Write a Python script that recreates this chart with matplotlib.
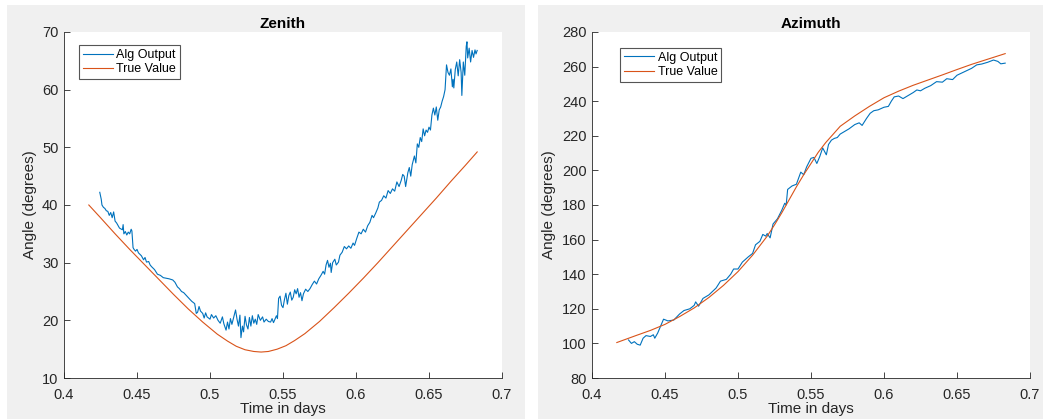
import numpy as np
import matplotlib.pyplot as plt
from matplotlib.patches import Rectangle

plt.rcParams['font.family'] = ['Liberation Sans', 'DejaVu Sans']

# ---- Zenith data ----
zen_alg_t = [0.4245, 0.4255, 0.4260, 0.4270, 0.4280, 0.4290, 0.4300, 0.4310, 0.4320, 0.4330,
             0.4340, 0.4350, 0.4360, 0.4380, 0.4400, 0.4405, 0.4410, 0.4420, 0.4430, 0.4440,
             0.4450, 0.4460, 0.4465, 0.4473, 0.4480, 0.4490, 0.4500, 0.4510, 0.4530, 0.4545,
             0.4555, 0.4565, 0.4580, 0.4590, 0.4600, 0.4620, 0.4640, 0.4660, 0.4680, 0.4700,
             0.4720, 0.4745, 0.4760, 0.4777, 0.4790, 0.4805, 0.4820, 0.4845, 0.4860, 0.4875,
             0.4895, 0.4906, 0.4915, 0.4925, 0.4935, 0.4950, 0.4960, 0.4970, 0.4980, 0.5000,
             0.5010, 0.5025, 0.5040, 0.5055, 0.5070, 0.5085, 0.5095, 0.5110, 0.5120, 0.5130,
             0.5140, 0.5150, 0.5165, 0.5175, 0.5185, 0.5195, 0.5205, 0.5212, 0.5222, 0.5230,
             0.5240, 0.5250, 0.5260, 0.5270, 0.5280, 0.5290, 0.5300, 0.5310, 0.5320, 0.5330,
             0.5345, 0.5360, 0.5370, 0.5385, 0.5400, 0.5415, 0.5425, 0.5435, 0.5445, 0.5455,
             0.5462, 0.5470, 0.5480, 0.5490, 0.5500, 0.5510, 0.5520, 0.5530, 0.5540, 0.5550,
             0.5560, 0.5570, 0.5580, 0.5590, 0.5600, 0.5610, 0.5620, 0.5630, 0.5640, 0.5655,
             0.5670, 0.5685, 0.5700, 0.5715, 0.5730, 0.5745, 0.5760, 0.5775, 0.5785, 0.5795,
             0.5805, 0.5815, 0.5825, 0.5830, 0.5840, 0.5855, 0.5865, 0.5880, 0.5890, 0.5905,
             0.5920, 0.5935, 0.5950, 0.5965, 0.5980, 0.5990, 0.6005, 0.6020, 0.6035, 0.6050,
             0.6065, 0.6080, 0.6095, 0.6110, 0.6120, 0.6135, 0.6150, 0.6160, 0.6175, 0.6190,
             0.6205, 0.6220, 0.6235, 0.6250, 0.6265, 0.6280, 0.6295, 0.6310, 0.6320, 0.6330,
             0.6340, 0.6355, 0.6365, 0.6375, 0.6385, 0.6400, 0.6410, 0.6420, 0.6430, 0.6440,
             0.6450, 0.6460, 0.6470, 0.6480, 0.6490, 0.6500, 0.6510, 0.6520, 0.6530, 0.6540,
             0.6550, 0.6560, 0.6570, 0.6580, 0.6590, 0.6600, 0.6610, 0.6620, 0.6630, 0.6640,
             0.6650, 0.6660, 0.6665, 0.6670, 0.6680, 0.6690, 0.6700, 0.6710, 0.6720, 0.6725,
             0.6735, 0.6745, 0.6755, 0.6760, 0.6765, 0.6775, 0.6785, 0.6795, 0.6805, 0.6815,
             0.6822, 0.6830]
zen_alg = [42.2, 41.0, 40.0, 39.6, 39.4, 39.0, 38.9, 38.2, 38.7, 37.8,
           38.8, 37.2, 36.9, 36.0, 35.7, 36.6, 35.0, 35.4, 34.8, 35.3,
           35.0, 35.8, 35.5, 32.6, 32.3, 32.0, 32.3, 31.7, 31.2, 30.5,
           30.9, 30.1, 30.2, 29.6, 29.3, 28.8, 28.0, 27.8, 27.4, 27.3,
           27.2, 27.0, 26.6, 25.8, 25.5, 25.0, 24.8, 24.1, 23.7, 23.3,
           22.9, 21.2, 21.4, 22.4, 21.6, 21.2, 20.4, 21.3, 20.6, 20.2,
           21.0, 20.4, 20.8, 20.0, 19.5, 20.6, 19.4, 18.3, 19.7, 18.5,
           20.3, 19.3, 20.8, 21.8, 20.2, 19.0, 20.9, 17.0, 19.0, 18.0,
           20.7, 19.2, 18.5, 20.5, 19.0, 20.8, 19.5, 20.2, 19.3, 21.0,
           20.0, 20.6, 19.7, 20.2, 19.8, 19.7, 20.3, 19.6, 20.2, 20.8,
           20.3, 23.8, 24.2, 22.6, 22.2, 23.6, 24.7, 22.8, 24.3, 24.9,
           23.5, 24.0, 25.3, 24.6, 25.5, 24.0, 24.8, 23.4, 24.6, 25.4,
           25.0, 25.5, 26.2, 26.8, 26.3, 27.2, 27.8, 28.5, 28.0, 29.6,
           30.4, 29.2, 29.9, 28.3, 30.0, 30.6, 29.6, 30.1, 31.3, 31.8,
           32.8, 32.4, 32.9, 32.5, 33.4, 33.0, 34.2, 35.3, 35.0, 35.8,
           35.3, 36.4, 37.0, 38.2, 37.8, 38.6, 39.5, 40.5, 40.8, 41.6,
           41.2, 42.5, 42.0, 42.8, 42.4, 44.0, 43.2, 44.3, 45.3, 45.0,
           43.2, 45.6, 46.5, 45.0, 47.0, 48.5, 47.3, 50.6, 50.0, 51.7,
           51.0, 53.2, 52.0, 53.0, 52.6, 53.5, 53.0, 55.6, 56.8, 55.6,
           57.0, 54.7, 56.5, 57.0, 58.0, 58.8, 60.0, 64.3, 63.0, 62.5,
           63.6, 60.5, 61.8, 60.3, 63.5, 64.8, 62.4, 65.2, 63.0, 59.0,
           64.8, 62.5, 67.5, 68.3, 65.5, 67.2, 64.8, 66.8, 65.6, 66.9,
           66.2, 66.8]

zen_true_t = [0.417, 0.425, 0.435, 0.445, 0.455, 0.465, 0.475, 0.485, 0.495, 0.505,
              0.512, 0.518, 0.524, 0.530, 0.535, 0.540, 0.546, 0.552, 0.558, 0.565,
              0.575, 0.585, 0.595, 0.605, 0.615, 0.625, 0.635, 0.645, 0.655, 0.665,
              0.675, 0.683]
zen_true = [40.0, 37.8, 35.0, 32.3, 29.7, 27.1, 24.5, 22.0, 19.7, 17.6,
            16.4, 15.5, 14.9, 14.6, 14.5, 14.6, 15.0, 15.6, 16.5, 17.7,
            19.8, 22.2, 24.7, 27.3, 30.0, 32.8, 35.6, 38.4, 41.2, 44.1,
            46.9, 49.2]

# ---- Azimuth data ----
az_alg_t = [0.425, 0.427, 0.429, 0.431, 0.433, 0.435, 0.437, 0.440, 0.442, 0.443,
            0.445, 0.447, 0.449, 0.452, 0.456, 0.460, 0.463, 0.467, 0.470, 0.471,
            0.473, 0.476, 0.480, 0.485, 0.488, 0.492, 0.495, 0.497, 0.500, 0.503,
            0.507, 0.510, 0.512, 0.515, 0.517, 0.519, 0.520, 0.522, 0.524, 0.527,
            0.530, 0.532, 0.533, 0.534, 0.537, 0.540, 0.543, 0.545, 0.547, 0.550,
            0.552, 0.554, 0.556, 0.558, 0.5605, 0.562, 0.564, 0.566, 0.568, 0.570,
            0.573, 0.576, 0.580, 0.583, 0.585, 0.588, 0.5905, 0.593, 0.596, 0.600,
            0.603, 0.605, 0.607, 0.610, 0.613, 0.617, 0.620, 0.6225, 0.625, 0.628,
            0.632, 0.636, 0.640, 0.643, 0.647, 0.650, 0.655, 0.660, 0.6635, 0.667,
            0.671, 0.675, 0.678, 0.680, 0.683]
az_alg = [102.0, 100.0, 101.0, 99.5, 99.0, 103.0, 104.5, 104.0, 105.0, 103.0,
          106.0, 110.0, 114.0, 113.0, 113.5, 117.0, 119.0, 120.0, 122.0, 124.0,
          121.5, 126.0, 128.0, 132.0, 136.0, 137.0, 140.0, 143.0, 143.0, 147.0,
          150.0, 152.0, 157.0, 159.0, 163.0, 162.0, 163.5, 161.0, 169.0, 172.0,
          177.0, 181.0, 180.0, 189.0, 191.0, 192.0, 199.0, 197.5, 202.0, 207.0,
          207.5, 204.0, 208.0, 213.0, 209.0, 215.0, 217.5, 218.5, 219.0, 221.0,
          222.5, 224.0, 226.5, 227.5, 226.0, 230.0, 233.0, 234.5, 235.0, 236.5,
          237.0, 240.0, 242.5, 243.0, 241.5, 243.5, 245.0, 246.5, 246.0, 247.5,
          249.0, 251.3, 251.0, 253.0, 252.5, 255.0, 257.0, 259.0, 261.0, 261.5,
          262.5, 263.8, 263.0, 261.6, 262.0]

az_true_t = [0.417, 0.430, 0.440, 0.450, 0.460, 0.470, 0.480, 0.490, 0.500, 0.510,
             0.520, 0.525, 0.530, 0.535, 0.540, 0.545, 0.550, 0.555, 0.560, 0.570,
             0.580, 0.590, 0.600, 0.610, 0.620, 0.630, 0.640, 0.650, 0.660, 0.670,
             0.683]
az_true = [100.5, 104.5, 107.5, 111.0, 115.5, 120.5, 126.5, 133.5, 141.5, 151.0,
           162.0, 168.5, 175.5, 183.0, 190.5, 197.5, 204.0, 210.5, 216.0, 225.5,
           231.5, 237.0, 242.0, 245.8, 249.2, 252.2, 255.2, 258.3, 261.3, 264.0,
           267.5]

xticks = [0.4, 0.45, 0.5, 0.55, 0.6, 0.65, 0.7]
xtick_labels = ['0.4', '0.45', '0.5', '0.55', '0.6', '0.65', '0.7']

blue = '#0072BD'
orange = '#D95319'
axcol = '#262626'

fig = plt.figure(figsize=(10.43, 4.19), dpi=100, facecolor='white')
# two grey figure windows side by side
fig.patches.append(Rectangle((7 / 1043, 0), 518 / 1043, 414 / 419, transform=fig.transFigure,
                             facecolor='#f0f0f0', edgecolor='none', zorder=-10))
fig.patches.append(Rectangle((538 / 1043, 0), 505 / 1043, 414 / 419, transform=fig.transFigure,
                             facecolor='#f0f0f0', edgecolor='none', zorder=-10))

ax1 = fig.add_axes([64 / 1043, 1 - 378 / 419, 438 / 1043, 346 / 419])
ax2 = fig.add_axes([592 / 1043, 1 - 378 / 419, 438 / 1043, 346 / 419])

panels = [
    (ax1, zen_alg_t, zen_alg, zen_true_t, zen_true, 'Zenith', (10, 70), [10, 20, 30, 40, 50, 60, 70], (0.034, 0.962)),
    (ax2, az_alg_t, az_alg, az_true_t, az_true, 'Azimuth', (80, 280), list(range(80, 281, 20)), (0.064, 0.954)),
]

for ax, ta, ya, tt, yt, title, ylim, yticks, legpos in panels:
    ax.plot(ta, ya, color=blue, lw=0.8, label='Alg Output')
    ax.plot(tt, yt, color=orange, lw=0.8, label='True Value')
    ax.set_xlim(0.4, 0.7)
    ax.set_ylim(*ylim)
    ax.set_xticks(xticks)
    ax.set_xticklabels(xtick_labels)
    ax.set_yticks(yticks)
    ax.set_title(title, fontsize=11, fontweight='bold', color='black', pad=3)
    ax.set_xlabel('Time in days', fontsize=11, color=axcol, labelpad=0)
    ax.set_ylabel('Angle (degrees)', fontsize=11, color=axcol, labelpad=4)
    for s in ['top', 'right']:
        ax.spines[s].set_visible(False)
    for s in ['left', 'bottom']:
        ax.spines[s].set_color(axcol)
        ax.spines[s].set_linewidth(0.6)
    ax.tick_params(direction='in', length=4, width=0.6, colors=axcol, labelsize=10.5)
    ax.tick_params(axis='x', pad=7)
    ax.tick_params(axis='y', pad=4)
    leg = ax.legend(loc='upper left', bbox_to_anchor=legpos, borderaxespad=0, fontsize=9,
                    fancybox=False, framealpha=1, edgecolor='#555555',
                    handlelength=2.4, handletextpad=0.3, borderpad=0.3, labelspacing=0.2)
    leg.get_frame().set_linewidth(0.8)

fig.savefig('out.png', dpi=100, facecolor=fig.get_facecolor())
